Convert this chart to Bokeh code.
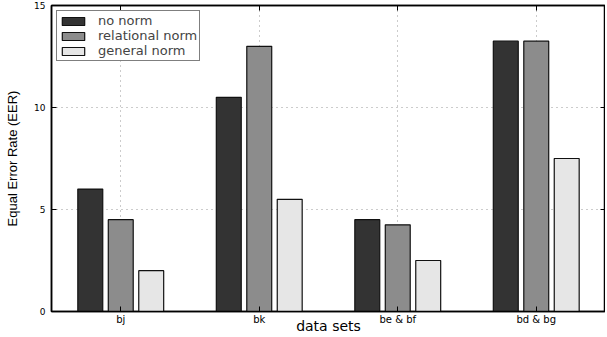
from bokeh.plotting import figure
from bokeh.models import (Range1d, FixedTicker, LinearAxis, Legend, LegendItem,
                          ColumnDataSource, CustomJSTickFormatter)
from bokeh.embed import file_html
from bokeh.resources import INLINE

categories = ["bj", "bk", "be & bf", "bd & bg"]
no_norm = [6.0, 10.5, 4.5, 13.25]
relational_norm = [4.5, 13.0, 4.25, 13.25]
general_norm = [2.0, 5.5, 2.5, 7.5]
series_names = ["no norm", "relational norm", "general norm"]
series_colors = ["#333333", "#8c8c8c", "#e6e6e6"]
y_ticks = [0, 5, 10, 15]

FONT = "DejaVu Sans"
pos = list(range(1, len(categories) + 1))

p = figure(width=605, height=336, output_backend="svg", toolbar_location=None,
           x_range=Range1d(0.5, len(categories) + 0.5), y_range=Range1d(0, 15),
           min_border_left=51, min_border_right=0, min_border_top=5,
           min_border_bottom=0)

offsets = [-0.22, 0.0, 0.22]
renderers = []
for vals, off, col in zip([no_norm, relational_norm, general_norm], offsets, series_colors):
    src = ColumnDataSource(dict(x=[x + off for x in pos], top=vals))
    r = p.vbar(x="x", top="top", width=0.18, bottom=0, source=src,
               fill_color=col, line_color="#111111", line_width=1.2)
    renderers.append(r)

# axes
p.xaxis.ticker = FixedTicker(ticks=pos)
p.xaxis.major_label_overrides = {i: c for i, c in zip(pos, categories)}
p.yaxis.ticker = FixedTicker(ticks=y_ticks)
for ax in [p.xaxis[0], p.yaxis[0]]:
    ax.major_tick_in = 5
    ax.major_tick_out = 0
    ax.minor_tick_in = 0
    ax.minor_tick_out = 0
    ax.axis_line_color = "black"
    ax.axis_line_width = 1.5
    ax.major_tick_line_color = "black"
    ax.major_label_text_font = FONT
    ax.major_label_text_color = "black"
    ax.axis_label_text_font = FONT
    ax.axis_label_text_font_style = "normal"
    ax.axis_label_text_color = "black"
p.xaxis.major_label_text_font_size = "10px"
p.yaxis.major_label_text_font_size = "9px"
p.xaxis.major_label_standoff = 2
p.yaxis.major_label_standoff = 6
p.xaxis.axis_label = "data sets"
p.xaxis.axis_label_text_font_size = "14px"
p.xaxis.axis_label_standoff = -10
p.yaxis.axis_label = "Equal Error Rate (EER)"
p.yaxis.axis_label_text_font = "Liberation Sans"
p.yaxis.axis_label_text_font_size = "13px"
p.yaxis.axis_label_standoff = 11

blank = CustomJSTickFormatter(code="return '';")
right_ax = LinearAxis(ticker=FixedTicker(ticks=y_ticks), formatter=blank,
                      major_tick_in=5, major_tick_out=0, minor_tick_in=0, minor_tick_out=0,
                      major_label_standoff=0, axis_line_color="black", axis_line_width=1.5)
top_ax = LinearAxis(ticker=FixedTicker(ticks=pos), formatter=blank,
                    major_tick_in=5, major_tick_out=0, minor_tick_in=0, minor_tick_out=0,
                    major_label_standoff=0, axis_line_color="black", axis_line_width=1.5)
p.add_layout(right_ax, "right")
p.add_layout(top_ax, "above")

p.outline_line_color = "black"
p.outline_line_width = 1.5

p.xgrid.ticker = FixedTicker(ticks=pos)
p.ygrid.ticker = FixedTicker(ticks=[5, 10])
for g in [p.xgrid[0], p.ygrid[0]]:
    g.grid_line_color = "#999999"
    g.grid_line_dash = "1 4"
    g.grid_line_width = 1

legend = Legend(items=[LegendItem(label=n, renderers=[r]) for n, r in zip(series_names, renderers)],
                location="top_left", margin=5, padding=2, spacing=0,
                glyph_width=28, glyph_height=10, label_height=10,
                label_text_font=FONT, label_text_font_size="13px",
                label_standoff=11, border_line_color="black", border_line_width=1.2,
                background_fill_alpha=1.0)
p.add_layout(legend)

open("out.html", "w").write(file_html(p, INLINE))
